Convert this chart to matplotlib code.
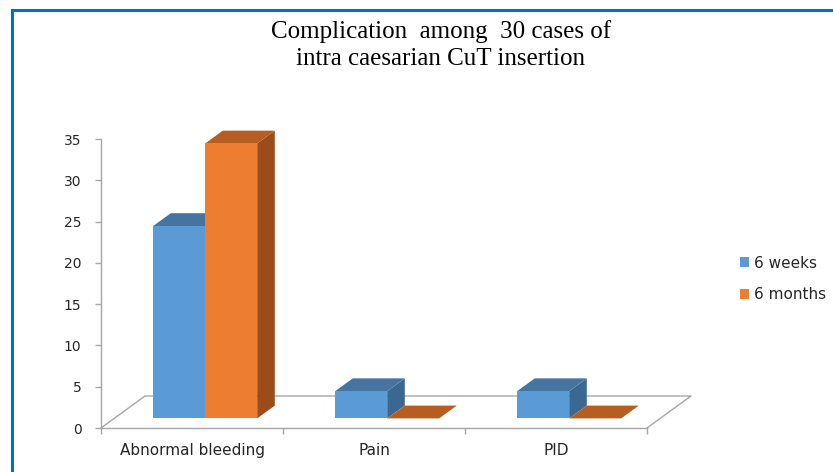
import matplotlib
matplotlib.use('Agg')
import matplotlib.pyplot as plt
from matplotlib.patches import Polygon, Patch
from matplotlib.lines import Line2D

# ---- data ----
categories = ['Abnormal bleeding', 'Pain', 'PID']
series_names = ['6 weeks', '6 months']
weeks6 = [23.3, 3.3, 3.3]
months6 = [33.3, 0, 0]
yticks = [0, 5, 10, 15, 20, 25, 30, 35]
title = 'Complication  among  30 cases of\nintra caesarian CuT insertion'

# ---- styles ----
front_cols = ['#5B9BD5', '#ED7D31']
top_cols = ['#44749F', '#B65D22']
side_cols = ['#3B6891', '#9A4C1A']
axis_col = '#A6A6A6'
label_font = 'DejaVu Sans'

W, H = 833, 472
fig = plt.figure(figsize=(W / 100, H / 100), dpi=100)
L, R, T, B = 101, 647, 139, 428
ax = fig.add_axes([L / W, 1 - B / H, (R - L) / W, (B - T) / H])
ncat = len(categories)
ymax = yticks[-1]
ax.set_xlim(0, ncat)
ax.set_ylim(0, ymax)

# oblique depth vector (in data units)
px_x = ncat / (R - L)
px_y = ymax / (B - T)
depth_dx = 44 * px_x
depth_dy = 32 * px_y
f0, f1 = 0.3, 0.7  # bar depth range (fraction of floor depth)
bw = 1 / 3.5       # bar width (gap width 150%)


def P(x, z, d):
    return (x + d * depth_dx, z + d * depth_dy)


# floor outline
ax.plot([0, depth_dx, ncat + depth_dx, ncat], [0, depth_dy, depth_dy, 0],
        color=axis_col, lw=1, clip_on=False, zorder=1)

series = [weeks6, months6]
for i, cat in enumerate(categories):
    for s, vals in enumerate(series):
        h = vals[i]
        x0 = i + 0.5 - bw + s * bw
        x1 = x0 + bw
        front = [P(x0, 0, f0), P(x1, 0, f0), P(x1, h, f0), P(x0, h, f0)]
        top = [P(x0, h, f0), P(x1, h, f0), P(x1, h, f1), P(x0, h, f1)]
        side = [P(x1, 0, f0), P(x1, 0, f1), P(x1, h, f1), P(x1, h, f0)]
        z = 3 + i * 3 + s
        for poly, col in ((side, side_cols[s]), (top, top_cols[s]), (front, front_cols[s])):
            ax.add_patch(Polygon(poly, closed=True, facecolor=col, edgecolor='none',
                                 lw=0, clip_on=False, zorder=z))

# axes
for sp in ['top', 'right']:
    ax.spines[sp].set_visible(False)
for sp in ['left', 'bottom']:
    ax.spines[sp].set_color(axis_col)
    ax.spines[sp].set_linewidth(1)
ax.set_yticks(yticks)
ax.set_yticklabels([str(v) for v in yticks])
ax.set_xticks(range(ncat + 1))
ax.set_xticklabels([''] * (ncat + 1))
ax.set_xticks([i + 0.5 for i in range(ncat)], minor=True)
ax.set_xticklabels(categories, minor=True)
ax.tick_params(axis='y', direction='out', length=4, width=1, color=axis_col,
               pad=10, labelsize=10, labelcolor='#262626')
ax.tick_params(axis='x', which='major', direction='out', length=4.5, width=1,
               color=axis_col)
ax.tick_params(axis='x', which='minor', length=0, pad=10.5, labelsize=11,
               labelcolor='#262626')
for lab in ax.get_yticklabels() + ax.get_xticklabels(minor=True):
    lab.set_family(label_font)
ax.patch.set_visible(False)

# title
fig.text(441 / W, 1 - 45 / H, title, ha='center', va='center',
         family='Liberation Serif', fontsize=18, linespacing=1.3, color='#000000')

# legend
handles = [Patch(facecolor=front_cols[k], edgecolor='none') for k in range(2)]
fig.legend(handles, series_names, loc='center left',
           bbox_to_anchor=(726 / W, 1 - 279 / H), frameon=False,
           handlelength=0.6, handleheight=0.6, handletextpad=0.3,
           labelspacing=1.1, prop={'family': label_font, 'size': 11},
           labelcolor='#262626')

# blue frame
fig.add_artist(Line2D([12 / W, 12 / W], [1 - 10 / H, 0], color='#0070C0', lw=2.2,
                      transform=fig.transFigure))
fig.add_artist(Line2D([12 / W, 1], [1 - 10 / H, 1 - 10 / H], color='#0070C0', lw=2.2,
                      transform=fig.transFigure))

fig.savefig('out.png', dpi=100, facecolor='white')
